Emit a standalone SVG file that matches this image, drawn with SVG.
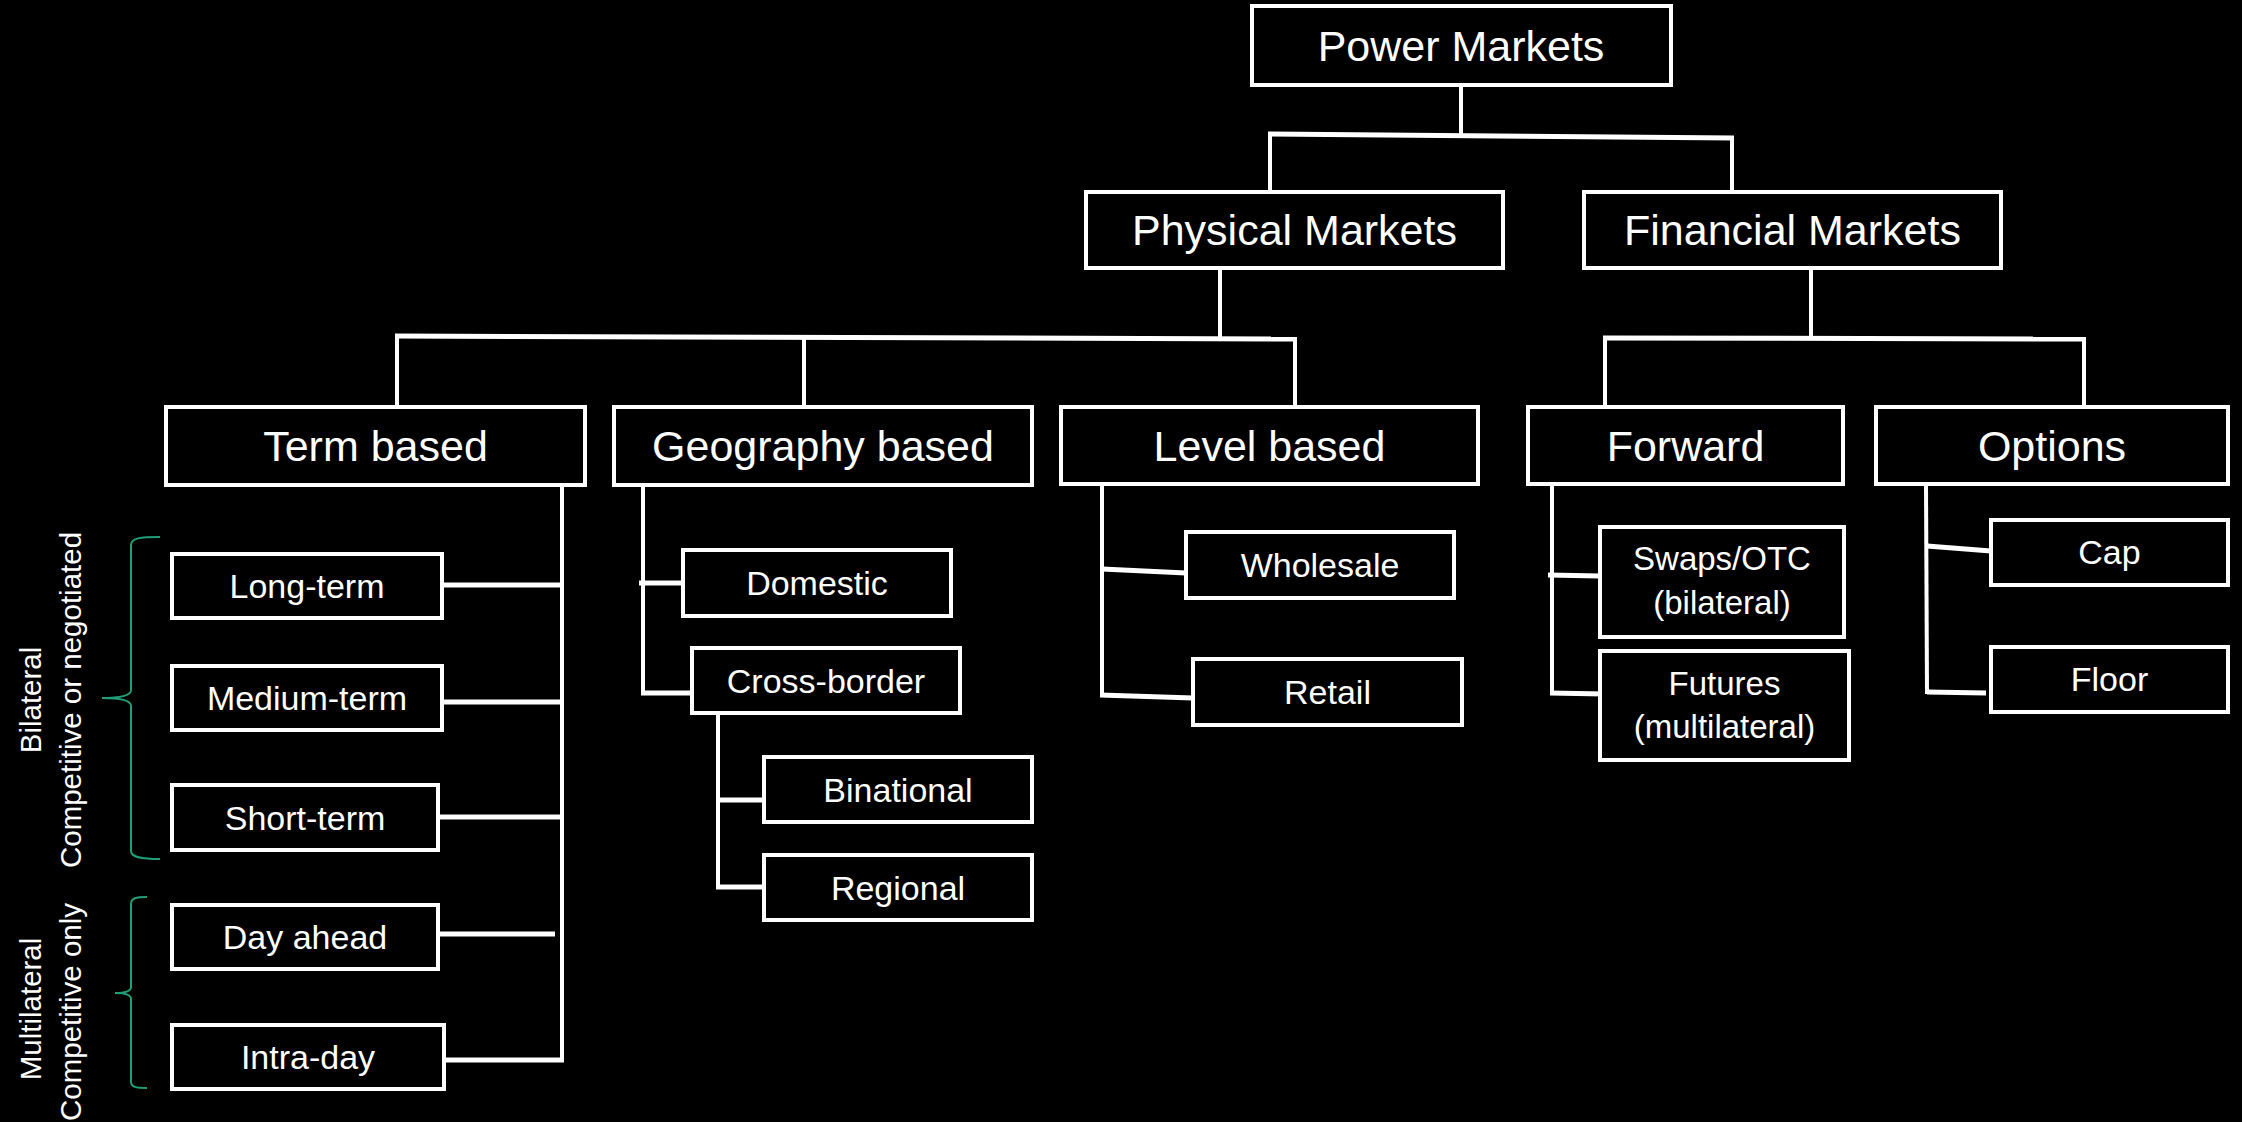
<svg xmlns="http://www.w3.org/2000/svg" width="2242" height="1122" viewBox="0 0 2242 1122">
<style>
.box{fill:#000;stroke:#fff;stroke-width:4}
.t{fill:#fff;font-family:"Liberation Sans",Arial,sans-serif;text-anchor:middle}
.l1{font-size:43px}
.l2{font-size:34px}
.l3{font-size:33px}
.side{fill:#fff;font-family:"Liberation Sans",Arial,sans-serif;font-size:29.5px;text-anchor:middle}
.c{stroke:#fff;stroke-width:4;fill:none}
.ch{stroke:#fff;stroke-width:5;fill:none}
.brace{stroke:#1f9e78;stroke-width:2;fill:none}
</style>
<rect width="2242" height="1122" fill="#000"/>
<g id="connectors">
<line class="c" x1="1461" y1="85" x2="1461" y2="136"/>
<line class="ch" x1="1268" y1="134" x2="1734" y2="138"/>
<line class="c" x1="1270" y1="136" x2="1270" y2="192"/>
<line class="c" x1="1732" y1="140" x2="1732" y2="192"/>
<line class="c" x1="1220" y1="268" x2="1220" y2="338"/>
<line class="ch" x1="395" y1="336" x2="1297" y2="339"/>
<line class="c" x1="397" y1="336" x2="397" y2="407"/>
<line class="c" x1="804" y1="337" x2="804" y2="407"/>
<line class="c" x1="1295" y1="339" x2="1295" y2="407"/>
<line class="c" x1="1811" y1="268" x2="1811" y2="338"/>
<line class="ch" x1="1603" y1="338" x2="2086" y2="339"/>
<line class="c" x1="1605" y1="338" x2="1605" y2="407"/>
<line class="c" x1="2084" y1="339" x2="2084" y2="407"/>
<line class="c" x1="562" y1="485" x2="562" y2="1062"/>
<line class="ch" x1="442" y1="585" x2="562" y2="585"/>
<line class="ch" x1="442" y1="702" x2="562" y2="702"/>
<line class="ch" x1="438" y1="817" x2="562" y2="817"/>
<line class="ch" x1="438" y1="934" x2="555" y2="934"/>
<line class="ch" x1="444" y1="1060" x2="564" y2="1060"/>
<line class="c" x1="643" y1="485" x2="643" y2="695"/>
<line class="ch" x1="639" y1="583" x2="683" y2="583"/>
<line class="ch" x1="641" y1="693" x2="692" y2="693"/>
<line class="c" x1="718" y1="713" x2="718" y2="889"/>
<line class="ch" x1="718" y1="800" x2="764" y2="800"/>
<line class="ch" x1="716" y1="887" x2="764" y2="887"/>
<line class="c" x1="1102" y1="485" x2="1102" y2="697"/>
<line class="ch" x1="1102" y1="569" x2="1186" y2="573"/>
<line class="ch" x1="1100" y1="695" x2="1193" y2="698"/>
<line class="c" x1="1552" y1="485" x2="1552" y2="695"/>
<line class="ch" x1="1548" y1="575" x2="1600" y2="576"/>
<line class="ch" x1="1550" y1="693" x2="1604" y2="694"/>
<line class="c" x1="1926" y1="485" x2="1927" y2="694"/>
<line class="ch" x1="1927" y1="546" x2="1991" y2="551"/>
<line class="ch" x1="1927" y1="692" x2="1986" y2="693"/>
<path class="brace" d="M160,537 C140,537 131,538 131,545 L131,690 C131,696 120,698 102,698 C120,698 131,700 131,706 L131,851 C131,857 140,859 160,859"/>
<path class="brace" d="M147,897 C136,897 131,898 131,904 L131,987 C131,991 125,993 115,993 C125,993 131,995 131,999 L131,1082 C131,1087 136,1088 147,1088"/>
</g>
<g id="power-markets"><rect class="box" x="1252" y="6" width="419" height="79"/><text class="t l1" x="1461" y="61">Power Markets</text></g>
<g id="physical-markets"><rect class="box" x="1086" y="192" width="417" height="76"/><text class="t l1" x="1294.5" y="245">Physical Markets</text></g>
<g id="financial-markets"><rect class="box" x="1584" y="192" width="417" height="76"/><text class="t l1" x="1792.5" y="245">Financial Markets</text></g>
<g id="term-based"><rect class="box" x="166" y="407" width="419" height="78"/><text class="t l1" x="375.5" y="461">Term based</text></g>
<g id="geography-based"><rect class="box" x="614" y="407" width="418" height="78"/><text class="t l1" x="823" y="461">Geography based</text></g>
<g id="level-based"><rect class="box" x="1061" y="407" width="417" height="77"/><text class="t l1" x="1269.5" y="461">Level based</text></g>
<g id="forward"><rect class="box" x="1528" y="407" width="315" height="77"/><text class="t l1" x="1685.5" y="461">Forward</text></g>
<g id="options"><rect class="box" x="1876" y="407" width="352" height="77"/><text class="t l1" x="2052" y="461">Options</text></g>
<g id="long-term"><rect class="box" x="172" y="554" width="270" height="64"/><text class="t l2" x="307" y="598">Long-term</text></g>
<g id="medium-term"><rect class="box" x="172" y="666" width="270" height="64"/><text class="t l2" x="307" y="710">Medium-term</text></g>
<g id="short-term"><rect class="box" x="172" y="785" width="266" height="65"/><text class="t l2" x="305" y="830">Short-term</text></g>
<g id="day-ahead"><rect class="box" x="172" y="905" width="266" height="64"/><text class="t l2" x="305" y="949">Day ahead</text></g>
<g id="intra-day"><rect class="box" x="172" y="1025" width="272" height="64"/><text class="t l2" x="308" y="1069">Intra-day</text></g>
<g id="domestic"><rect class="box" x="683" y="550" width="268" height="66"/><text class="t l2" x="817" y="595">Domestic</text></g>
<g id="cross-border"><rect class="box" x="692" y="648" width="268" height="65"/><text class="t l2" x="826" y="693">Cross-border</text></g>
<g id="binational"><rect class="box" x="764" y="757" width="268" height="65"/><text class="t l2" x="898" y="802">Binational</text></g>
<g id="regional"><rect class="box" x="764" y="855" width="268" height="65"/><text class="t l2" x="898" y="900">Regional</text></g>
<g id="wholesale"><rect class="box" x="1186" y="532" width="268" height="66"/><text class="t l2" x="1320" y="577">Wholesale</text></g>
<g id="retail"><rect class="box" x="1193" y="659" width="269" height="66"/><text class="t l2" x="1327.5" y="704">Retail</text></g>
<g id="swaps-otc"><rect class="box" x="1600" y="527" width="244" height="110"/><text class="t l3" x="1722" y="570">Swaps/OTC</text><text class="t l3" x="1722" y="614">(bilateral)</text></g>
<g id="futures"><rect class="box" x="1600" y="651" width="249" height="109"/><text class="t l3" x="1724.5" y="695">Futures</text><text class="t l3" x="1724.5" y="738">(multilateral)</text></g>
<g id="cap"><rect class="box" x="1991" y="520" width="237" height="65"/><text class="t l2" x="2109.5" y="564">Cap</text></g>
<g id="floor"><rect class="box" x="1991" y="647" width="237" height="65"/><text class="t l2" x="2109.5" y="691">Floor</text></g>
<g id="labels">
<text class="side" transform="translate(41,700) rotate(-90)">Bilateral</text>
<text class="side" transform="translate(81,700) rotate(-90)">Competitive or negotiated</text>
<text class="side" transform="translate(41,1009) rotate(-90)">Multilateral</text>
<text class="side" transform="translate(81,1012) rotate(-90)">Competitive only</text>
</g>
</svg>
